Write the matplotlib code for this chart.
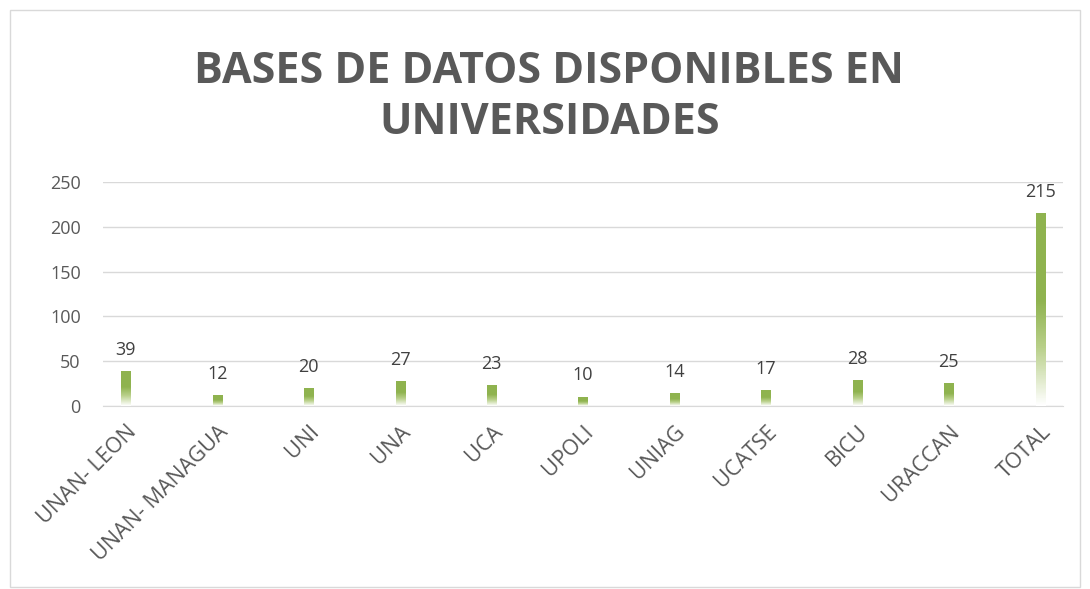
import matplotlib
matplotlib.use('Agg')
import matplotlib.pyplot as plt
import numpy as np
from matplotlib.colors import LinearSegmentedColormap
from matplotlib.patches import Rectangle

# data
universidades = ['UNAN- LEON', 'UNAN- MANAGUA', 'UNI', 'UNA', 'UCA', 'UPOLI',
                 'UNIAG', 'UCATSE', 'BICU', 'URACCAN', 'TOTAL']
bases = [39, 12, 20, 27, 23, 10, 14, 17, 28, 25, 215]

titulo = 'BASES DE DATOS DISPONIBLES EN\nUNIVERSIDADES'
yticks = [0, 50, 100, 150, 200, 250]

# style
txtcolor = '#595959'
gridcolor = '#d9d9d9'
barcolor = '#8fb34f'
barwidth = 0.1
plt.rcParams['font.family'] = ['Open Sans', 'DejaVu Sans']

fig = plt.figure(figsize=(10.9, 5.89), dpi=100)
ax = fig.add_axes([0.0945, 0.3107, 0.8807, 0.3803])

# fade from white at the base to green at the top
cmap = LinearSegmentedColormap.from_list('fade', [(0, 'white'), (0.3, '#b9d08a'),
                                                  (0.55, barcolor), (1, barcolor)])
grad = np.linspace(1, 0, 100).reshape(-1, 1)
x = np.arange(len(universidades))
for k in range(len(bases)):
    ax.imshow(grad, extent=(x[k] - barwidth/2, x[k] + barwidth/2, 0, bases[k]),
              aspect='auto', cmap=cmap, vmin=0, vmax=1, zorder=3)
    ax.text(x[k], bases[k] + 14, str(bases[k]), ha='center', va='bottom',
            fontsize=13, color='#404040', zorder=4)

ax.set_xlim(-0.25, len(universidades) - 0.75)
ax.set_ylim(0, 250)
ax.set_yticks(yticks)
ax.set_xticks(x)
ax.set_xticklabels(universidades, rotation=45, ha='right', rotation_mode='anchor',
                   fontsize=15.5, color=txtcolor)
ax.tick_params(axis='y', length=0, pad=16, labelsize=13, labelcolor=txtcolor)
ax.tick_params(axis='x', length=0, pad=11)
ax.grid(axis='y', color=gridcolor, linewidth=1, zorder=0)
for s in ['top', 'right', 'left']:
    ax.spines[s].set_visible(False)
ax.spines['bottom'].set_color(gridcolor)

fig.text(0.504, 0.835, titulo, ha='center', va='center', fontsize=31,
         fontweight='bold', color=txtcolor, linespacing=1.25)

# chart border
fig.patches.append(Rectangle((10/1090, 2/589), 1070/1090, 577/589, transform=fig.transFigure,
                             fill=False, edgecolor='#d9d9d9', linewidth=1))

fig.savefig('out.png', dpi=100)
